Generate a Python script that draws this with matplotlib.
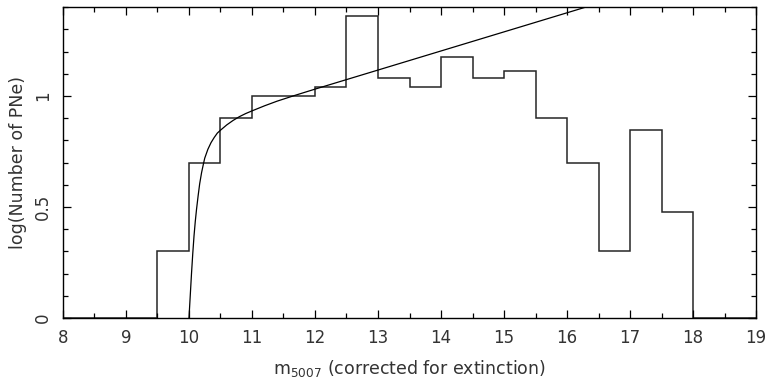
import matplotlib
matplotlib.use('Agg')
import matplotlib.pyplot as plt
import numpy as np

plt.rcParams['font.family'] = ['DejaVu Sans']
plt.rcParams['mathtext.default'] = 'regular'

# histogram of PN counts in 0.5 mag bins
bin_edges = np.arange(8.0, 19.01, 0.5)
counts = [0, 0, 0, 2, 5, 8, 10, 10, 11, 23, 12, 11, 15, 12, 13, 8, 5, 2, 7, 3, 0, 0]

# fitted luminosity function
fit_mag = [10.0, 10.01, 10.02, 10.04, 10.06, 10.08, 10.1, 10.12, 10.145, 10.17,
           10.2, 10.23, 10.25, 10.3, 10.35, 10.4, 10.45, 10.5, 10.6, 10.7,
           10.8, 10.9, 11.0, 11.2, 11.4, 11.66, 12.0, 12.5, 13.0, 14.0,
           15.0, 16.0, 16.5]
fit_log = [0.0, 0.05, 0.1, 0.2, 0.29, 0.37, 0.435, 0.49, 0.55, 0.605,
           0.655, 0.695, 0.72, 0.76, 0.79, 0.813, 0.833, 0.846, 0.87, 0.89,
           0.907, 0.921, 0.933, 0.956, 0.977, 1.001, 1.031, 1.074, 1.117, 1.203,
           1.289, 1.375, 1.418]

counts = np.array(counts)
log_counts = np.log10(np.maximum(counts, 1))

fig = plt.figure(figsize=(7.66, 3.81), dpi=100)
ax = fig.add_axes([0.0822, 0.1654, 0.987 - 0.0822, 0.981 - 0.1654])

ax.stairs(log_counts, bin_edges, baseline=0, color='#262626', lw=1.1)
ax.plot(fit_mag, fit_log, color='black', lw=0.9)

ax.set_xlim(8, 19)
ax.set_ylim(0, 1.4)
ax.set_xticks(np.arange(8, 20, 1))
ax.set_xticks(np.arange(8, 19.01, 0.5), minor=True)
ax.set_yticks([0, 0.5, 1])
ax.set_yticklabels(['0', '0.5', '1'], rotation=90, va='center')
ax.set_yticks(np.arange(0, 1.41, 0.1), minor=True)
ax.tick_params(which='both', direction='in', top=True, right=True, width=0.9,
               labelsize=12, labelcolor='#333333')
ax.tick_params(which='major', length=6)
ax.tick_params(which='minor', length=3.5)
ax.tick_params(axis='x', pad=8)
ax.tick_params(axis='y', pad=8)
for s in ax.spines.values():
    s.set_linewidth(1.0)

ax.set_xlabel('m$_{5007}$ (corrected for extinction)', fontsize=12.5,
              color='#333333', labelpad=8)
ax.set_ylabel('log(Number of PNe)', fontsize=12.5, color='#333333', labelpad=5)

fig.savefig('out.png', dpi=100)
